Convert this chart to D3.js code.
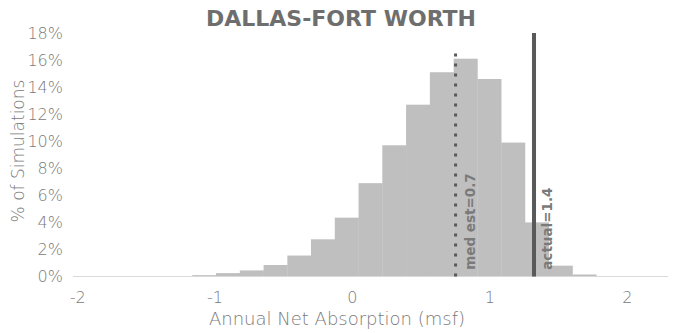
<!DOCTYPE html>
<html>
<head>
<meta charset="utf-8">
<script src="https://cdn.jsdelivr.net/npm/d3@7"></script>
<style>
  html, body { margin: 0; padding: 0; background: #ffffff; }
  svg { display: block; }
</style>
</head>
<body>
<svg id="chart" width="674" height="333"></svg>
<script>
// ---- data ----
const title = "DALLAS-FORT WORTH";
const xLabel = "Annual Net Absorption (msf)";
const yLabel = "% of Simulations";
const xTicks = [-2, -1, 0, 1, 2];
const yTicks = [0, 2, 4, 6, 8, 10, 12, 14, 16, 18];
// lower edge of each histogram bin (msf) and its share of simulations (%)
const binWidth = 0.173;
const binLo = [-1.162, -0.989, -0.816, -0.643, -0.470, -0.298, -0.125, 0.048, 0.221,
               0.394, 0.567, 0.740, 0.913, 1.086, 1.259, 1.432, 1.605];
const binPct = [0.1, 0.25, 0.45, 0.85, 1.55, 2.75, 4.35, 6.9, 9.7,
                12.7, 15.1, 16.1, 14.6, 9.9, 4.0, 0.8, 0.15];
const medEst = 0.754, medEstLabel = "med est=0.7", medTop = 16.5;
const actual = 1.325, actualLabel = "actual=1.4", actualTop = 18;

// ---- layout ----
const plot = { left: 73, right: 668, top: 33, bottom: 276.5 };
const barColor = "#bfbfbf", lineColor = "#595959", textColor = "#7a7a7a";
const font = "'DejaVu Sans', sans-serif";

const svg = d3.select("#chart");
const x = d3.scaleLinear().domain([-2.03, 2.30]).range([plot.left, plot.right]);
const y = d3.scaleLinear().domain([0, 18]).range([plot.bottom, plot.top]);

const bins = binLo.map((lo, i) => ({ lo, hi: lo + binWidth, v: binPct[i] }));

// bars
svg.append("g").selectAll("rect").data(bins).join("rect")
  .attr("x", d => x(d.lo))
  .attr("width", d => x(d.hi) - x(d.lo) + 0.3)
  .attr("y", d => y(d.v))
  .attr("height", d => y(0) - y(d.v))
  .attr("fill", barColor);

// baseline
svg.append("line")
  .attr("x1", plot.left).attr("x2", plot.right)
  .attr("y1", y(0)).attr("y2", y(0))
  .attr("stroke", "#d9d9d9").attr("stroke-width", 1);

// y axis (labels only)
const yAxis = d3.axisLeft(y).tickValues(yTicks).tickSize(0).tickPadding(0)
  .tickFormat(d => d + "%");
const gy = svg.append("g").attr("transform", `translate(${plot.left - 10},0)`).call(yAxis);
gy.select(".domain").remove();
gy.selectAll("text").attr("fill", textColor).attr("font-family", font)
  .attr("font-size", 16).attr("font-weight", 200);

// x axis (labels only)
const xAxis = d3.axisBottom(x).tickValues(xTicks).tickSize(0).tickPadding(0)
  .tickFormat(d3.format("d"));
const gx = svg.append("g").attr("transform", `translate(0,${plot.bottom + 15})`).call(xAxis);
gx.select(".domain").remove();
gx.selectAll("text").attr("fill", textColor).attr("font-family", font)
  .attr("font-size", 16).attr("font-weight", 200).text(d => d < 0 ? "-" + Math.abs(d) : d);

// reference lines
svg.append("line")
  .attr("x1", x(medEst)).attr("x2", x(medEst))
  .attr("y1", y(0)).attr("y2", y(medTop))
  .attr("stroke", lineColor).attr("stroke-width", 3)
  .attr("stroke-dasharray", "3 7");
svg.append("line")
  .attr("x1", x(actual)).attr("x2", x(actual))
  .attr("y1", y(0)).attr("y2", y(actualTop))
  .attr("stroke", lineColor).attr("stroke-width", 4);

// reference labels
svg.append("text")
  .attr("transform", `translate(${x(medEst) + 19},${y(0.5)}) rotate(-90)`)
  .attr("font-family", font).attr("font-size", 13.5).attr("font-weight", "bold")
  .attr("fill", textColor).text(medEstLabel);
svg.append("text")
  .attr("transform", `translate(${x(actual) + 18},${y(0.5)}) rotate(-90)`)
  .attr("font-family", font).attr("font-size", 13.5).attr("font-weight", "bold")
  .attr("fill", textColor).text(actualLabel);

// title
svg.append("text")
  .attr("x", 341).attr("y", 26).attr("text-anchor", "middle")
  .attr("font-family", font).attr("font-size", 22).attr("font-weight", "bold")
  .attr("fill", "#6e6e6e").text(title);

// axis titles
svg.append("text")
  .attr("x", 337).attr("y", 325).attr("text-anchor", "middle")
  .attr("font-family", font).attr("font-size", 18).attr("font-weight", 200)
  .attr("fill", textColor).text(xLabel);
svg.append("text")
  .attr("transform", `translate(24,151) rotate(-90)`).attr("text-anchor", "middle")
  .attr("font-family", font).attr("font-size", 17).attr("font-weight", 200)
  .attr("fill", textColor).text(yLabel);
</script>
</body>
</html>
